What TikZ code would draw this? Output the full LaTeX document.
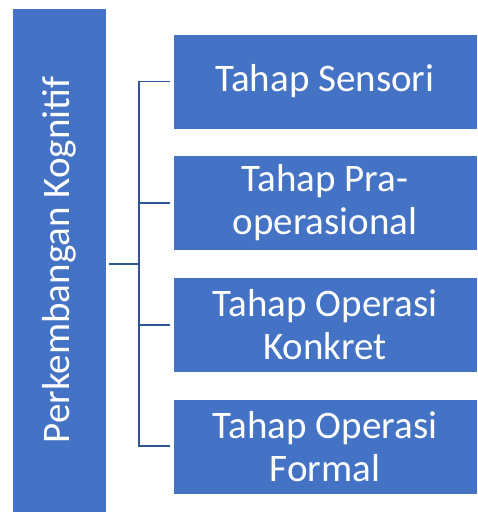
\documentclass[tikz,border=0pt]{standalone}
\usepackage{fontspec}
\setmainfont{Carlito}
\usetikzlibrary{positioning, calc}
\definecolor{boxBlue}{HTML}{4472C4}
\definecolor{lineBlue}{HTML}{2F5597}
\tikzset{
  stage/.style = {
    draw=white,
    line width=.6pt,
    fill=boxBlue,
    text=white,
    align=center,
    inner sep=0,
    minimum width=304pt,
    minimum height=95pt,
    font=\fontsize{39}{43}\selectfont,
  },
  link/.style = {
    draw=lineBlue,
    line width=1.8pt,
  },
}

\begin{document}
\begin{tikzpicture}[
  x=1pt,
  y=-1pt,
  node distance=26pt,
]
\useasboundingbox (0,0) rectangle (478,513);

\node(Root)[stage, minimum width=94pt, minimum height=504pt] at (59,260) {};
\node[rotate=90, text=white, font=\fontsize{39}{43}\selectfont] at (Root.center) {Perkembangan Kognitif};

\node(Sensori)[stage] at (325,81.5) {Tahap Sensori};
\node(PraOp)[stage, below=of Sensori] {Tahap Pra-\\operasional};
\node(Konkret)[stage, below=of PraOp] {Tahap Operasi\\Konkret};
\node(Formal)[stage, below=of Konkret] {Tahap Operasi\\Formal};

\coordinate(Hub) at ($(Sensori.west)!.5!(Formal.west) + (-34,0)$);

\draw[link, shorten <=3pt] (Root.east |- Hub) -- (Hub);
\draw[link, shorten >=3pt] (Hub) |- (Sensori.west);
\draw[link, shorten >=3pt] (Hub) |- (PraOp.west);
\draw[link, shorten >=3pt] (Hub) |- (Konkret.west);
\draw[link, shorten >=3pt] (Hub) |- (Formal.west);

\end{tikzpicture}
\end{document}
